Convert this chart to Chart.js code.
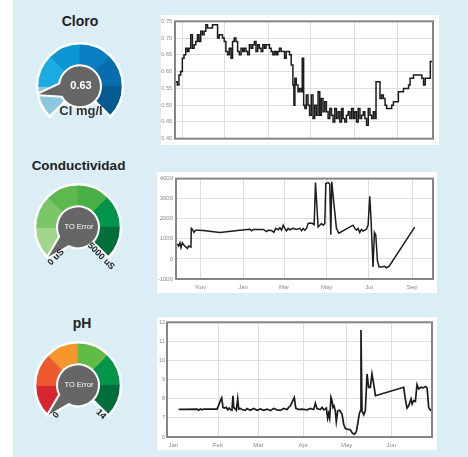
<!DOCTYPE html>
<html>
<head>
<meta charset="utf-8">
<script src="https://cdn.jsdelivr.net/npm/chart.js@4.4.1/dist/chart.umd.min.js"></script>
<style>
  html, body { margin: 0; padding: 0; }
  body {
    width: 468px; height: 457px; position: relative; overflow: hidden;
    background: #dbeef6;
    font-family: "Liberation Sans", Arial, sans-serif;
  }
  .strip { position: absolute; left: 0; top: 0; width: 13px; height: 457px; background: #fff; }
  .title { position: absolute; width: 140px; text-align: center; font-weight: bold; color: #222; line-height: 1; }
  .panel { position: absolute; background: #fff; }
  canvas { position: absolute; }
</style>
</head>
<body>
<div class="strip"></div>

<div class="title" style="left:10px; top:14px; font-size:14px;">Cloro</div>
<div class="title" style="left:8.5px; top:158.5px; font-size:13.5px;">Conductividad</div>
<div class="title" style="left:12px; top:316px; font-size:14px;">pH</div>

<canvas id="cloroGauge" width="120" height="112" style="left:20px; top:24px;"></canvas>
<canvas id="condGauge" width="120" height="112" style="left:18px; top:165px;"></canvas>
<canvas id="phGauge" width="120" height="112" style="left:18px; top:323px;"></canvas>

<div class="panel" style="left:161px; top:15px; width:278px; height:130px;"></div>
<div class="panel" style="left:157px; top:172px; width:280px; height:121px;"></div>
<div class="panel" style="left:157px; top:317px; width:280px; height:133px;"></div>
<canvas id="cloroChart" width="278" height="130" style="left:161px; top:15px;"></canvas>
<canvas id="condChart" width="280" height="121" style="left:157px; top:172px;"></canvas>
<canvas id="phChart" width="280" height="133" style="left:157px; top:317px;"></canvas>

<script>
// --------------------------------
// Gauge readings
// --------------------------------
const gaugeBands = [1, 1, 1, 1, 1, 1];
const cloroScale = [0, 5];
const cloroReading = 0.63;
const condScale = [0, 5000];
const phScale = [0, 14];

const cloroColors = ['#8cc8dd', '#1aace0', '#0b95d3', '#0a7cc2', '#086dac', '#055a92'];
const condColors = ['#9fd68c', '#7cc66a', '#5cb94d', '#4aae46', '#00954a', '#006e38'];
const phColors = ['#d7262d', '#ee5a30', '#f7952f', '#62bb47', '#00964a', '#006d3b'];

// --------------------------------
// Cloro series (days, mg/l)
// --------------------------------
const cloroDays = [-5.2, -3.6, -2.4, -1.2, 0, 1.2, 2.4, 3.6, 4.7, 5.9, 7.1, 8.3, 9.5, 10.7, 11.8, 13.0, 14.2, 15.4, 16.6, 17.8,
    21.3, 24.9, 26.1, 28.4, 29.6, 30.8, 32.0, 33.2, 34.4, 35.5, 36.7, 37.9, 39.1, 40.3, 41.5, 42.7, 43.8, 45.0, 46.2, 47.4,
    48.6, 49.8, 51.0, 52.1, 53.3, 54.5, 55.7, 56.9, 58.1, 59.2, 61.6, 62.8, 64.0, 65.2, 66.4, 67.5, 68.7, 69.9, 72.3, 73.5,
    75.8, 77.0, 78.2, 78.9, 79.6, 80.6, 81.8, 82.9, 84.1, 84.8, 85.8, 86.7, 87.7, 88.9, 90.0, 91.2, 92.4, 93.6, 94.8, 96.0,
    97.2, 98.3, 99.5, 100.7, 101.9, 103.1, 104.3, 105.5, 106.6, 107.8, 109.0, 110.2, 111.4, 112.6, 113.7, 114.9, 116.1, 117.3, 118.5, 119.7,
    120.9, 122.0, 123.2, 124.4, 125.6, 126.8, 128.0, 129.1, 130.3, 131.5, 132.7, 133.9, 135.1, 136.3, 137.0, 139.8, 141.0, 142.2, 143.4, 144.5,
    148.1, 149.3, 152.8, 156.4, 160.0, 161.1, 163.5, 169.4, 170.6, 171.8, 175.4, 177.3];
const cloroValues = [0.57, 0.56, 0.59, 0.60, 0.64, 0.65, 0.67, 0.66, 0.67, 0.71, 0.67, 0.68, 0.69, 0.71, 0.69, 0.72, 0.71, 0.72, 0.74, 0.73,
    0.74, 0.70, 0.71, 0.70, 0.69, 0.66, 0.65, 0.67, 0.64, 0.69, 0.70, 0.69, 0.66, 0.65, 0.67, 0.66, 0.67, 0.66, 0.65, 0.68,
    0.67, 0.68, 0.69, 0.66, 0.68, 0.67, 0.66, 0.68, 0.67, 0.68, 0.67, 0.66, 0.65, 0.66, 0.65, 0.66, 0.67, 0.66, 0.64, 0.66,
    0.65, 0.62, 0.56, 0.50, 0.58, 0.56, 0.54, 0.55, 0.54, 0.64, 0.50, 0.49, 0.53, 0.50, 0.47, 0.53, 0.46, 0.50, 0.47, 0.54,
    0.47, 0.52, 0.48, 0.51, 0.48, 0.46, 0.49, 0.47, 0.45, 0.49, 0.46, 0.48, 0.45, 0.49, 0.46, 0.45, 0.47, 0.48, 0.46, 0.49,
    0.46, 0.48, 0.45, 0.49, 0.46, 0.47, 0.48, 0.46, 0.44, 0.49, 0.47, 0.46, 0.48, 0.46, 0.57, 0.52, 0.53, 0.52, 0.50, 0.49,
    0.50, 0.51, 0.54, 0.55, 0.56, 0.58, 0.59, 0.58, 0.56, 0.58, 0.63, 0.63];
const cloroMonthDays = [0, 30, 61, 91, 122, 152];
const cloroYTicks = [0.40, 0.45, 0.50, 0.55, 0.60, 0.65, 0.70, 0.75];

// --------------------------------
// Conductividad series (days from Nov 1, uS)
// --------------------------------
const condDays = [-33.5, -31.6, -29.7, -28.2, -26.3, -23.9, -21.1, -19.1, -17.2, -15.3, -13.9, -13.4, -12.0, -9.6, -7.2, -3.3, 3.8, 27.8, 56.5, 70.8,
    73.2, 75.6, 90, 94.7, 97.1, 101.9, 105.3, 108.1, 111.5, 113.9, 116.3, 118.7, 121.1, 123.4, 125.8, 128.2, 133, 137.8, 142.6, 145,
    147.4, 149.8, 152.2, 154.5, 156.9, 160.8, 163.2, 165.1, 166.5, 168.9, 171.3, 173.7, 176.1, 178.5, 179.9, 183.3, 185.6, 187.1, 188.5, 191.4,
    195.2, 198.6, 219.1, 221.5, 223.9, 226.3, 228.7, 231.1, 233.5, 235.9, 238.3, 240.7, 243.1, 245, 247.8, 249.8, 251.7, 254.1, 256.5, 259.8,
    264.6, 267, 270.8, 307.7];
const condValues = [750, 640, 800, 560, 800, 680, 590, 520, 650, 600, 590, 1520, 1480, 1320, 1430, 1430, 1420, 1320, 1430, 1480,
    1400, 1470, 1470, 1360, 1430, 1420, 1320, 1520, 1450, 1550, 1430, 1680, 1520, 1400, 1520, 1450, 1520, 1470, 1520, 1400,
    1520, 1430, 1520, 1760, 1790, 1760, 1710, 3800, 2960, 1600, 1680, 1760, 1680, 1760, 3760, 3800, 3730, 1200, 3840, 2800,
    1520, 1280, 1680, 1520, 1430, 1520, 1320, 1470, 1390, 1430, 1480, 1680, 3120, 1920, -400, 1320, 1200, -90, -400, -400,
    -370, -440, -370, 1580];
const condMonthDays = [0, 61, 120, 181, 242, 304];
const condMonthLabels = ['Nov', 'Jan', 'Mar', 'May', 'Jul', 'Sep'];
const condYTicks = [-1000, 0, 1000, 2000, 3000, 4000];

// --------------------------------
// pH series (days from Jan 1)
// --------------------------------
const phDays = [3.7, 7.2, 16.4, 17.6, 18.7, 19.9, 21.0, 23.3, 30.3, 31.4, 32.6, 33.5, 34.4, 35.3, 36.7, 37.6, 38.6, 39.5, 40.6, 41.3,
    41.8, 43.0, 43.6, 44.6, 45.3, 46.4, 47.6, 49.9, 51.0, 53.3, 55.7, 58.0, 60.3, 62.6, 64.9, 67.2, 69.5, 71.8, 74.1, 76.4,
    78.8, 79.9, 81.1, 82.2, 83.8, 84.8, 86.8, 89.1, 92.6, 94.9, 97.2, 98.4, 99.5, 101.8, 103.0, 104.2, 105.3, 106.0, 106.9, 107.6,
    108.3, 109.2, 109.9, 110.6, 111.3, 112.2, 112.9, 113.9, 115.2, 116.9, 118.0, 119.2, 120.8, 122.6, 123.8, 125.4, 126.8, 127.7, 128.9, 129.6,
    130.0, 130.7, 131.9, 133.0, 134.2, 135.3, 136.5, 137.6, 138.8, 140.0, 159.6, 160.7, 161.9, 163.0, 164.7, 165.4, 166.5, 167.7, 168.8, 170.0,
    171.6, 173.0, 174.6, 175.8, 176.9, 178.1, 179.2];
const phValues = [7.44, 7.44, 7.46, 7.40, 7.46, 7.42, 7.46, 7.46, 7.46, 7.67, 7.90, 8.04, 7.55, 7.51, 7.55, 7.42, 7.51, 7.44, 7.40, 8.16,
    7.55, 7.46, 7.40, 8.00, 7.46, 7.49, 7.44, 7.40, 7.49, 7.40, 7.49, 7.40, 7.47, 7.40, 7.46, 7.38, 7.49, 7.42, 7.39, 7.49,
    7.44, 7.55, 7.63, 7.81, 8.07, 7.51, 7.44, 7.46, 7.42, 7.49, 7.44, 7.76, 7.49, 7.44, 7.55, 7.42, 7.47, 7.51, 6.98, 7.23,
    6.98, 8.07, 7.90, 7.55, 7.63, 7.37, 6.81, 7.37, 7.40, 7.19, 6.67, 6.44, 6.40, 6.38, 6.23, 6.14, 6.28, 6.67, 7.23, 7.37,
    11.6, 7.37, 7.16, 7.37, 9.30, 8.60, 8.60, 9.30, 8.78, 8.16, 8.60, 7.99, 7.51, 7.63, 7.99, 7.72, 7.90, 7.86, 8.74, 8.51,
    8.60, 8.57, 8.64, 8.57, 7.55, 7.40, 7.44];
const phMonthDays = [0, 31, 59, 90, 120, 151];
const phMonthLabels = ['Jan', 'Feb', 'Mar', 'Apr', 'May', 'Jun'];
const phYTicks = [6, 7, 8, 9, 10, 11, 12];

const FONT = '"Liberation Sans", Arial, sans-serif';
Chart.defaults.font.family = FONT;

// --------------------------------
// Gauge decoration: white rim, needle, hub and labels
// --------------------------------
const gaugeDecor = {
    id: 'gaugeDecor',
    afterDatasetsDraw(chart, args, opts) {
        const arcs = chart.getDatasetMeta(0).data;
        const first = arcs[0];
        const last = arcs[arcs.length - 1];
        const cx = first.x, cy = first.y;
        const R = first.outerRadius, r = first.innerRadius;
        const a0 = first.startAngle, a1 = last.endAngle;
        const ctx = chart.ctx;
        ctx.save();

        // white outline round the ring
        ctx.beginPath();
        ctx.arc(cx, cy, R, a0, a1);
        ctx.arc(cx, cy, r, a1, a0, true);
        ctx.closePath();
        ctx.strokeStyle = '#fff';
        ctx.lineWidth = 2.5;
        ctx.stroke();

        // needle + hub as one shape
        let frac = (opts.value - opts.min) / (opts.max - opts.min);
        frac = Math.min(Math.max(frac, 0), 1);
        const ang = a0 + frac * (a1 - a0);
        const hub = 20, half = 0.3;
        const tipR = R - 1;
        ctx.beginPath();
        ctx.moveTo(cx + tipR * Math.cos(ang), cy + tipR * Math.sin(ang));
        ctx.lineTo(cx + hub * Math.cos(ang + half), cy + hub * Math.sin(ang + half));
        ctx.arc(cx, cy, hub, ang + half, ang - half + Math.PI * 2);
        ctx.closePath();
        ctx.lineJoin = 'round';
        ctx.strokeStyle = '#fff';
        ctx.lineWidth = 4;
        ctx.stroke();
        ctx.fillStyle = '#666';
        ctx.fill();

        // centre text
        ctx.fillStyle = '#fff';
        ctx.textAlign = 'center';
        ctx.textBaseline = 'middle';
        ctx.font = opts.centerFont;
        ctx.fillText(opts.center, cx + 1, cy);

        // unit under the gauge
        if (opts.below) {
            ctx.fillStyle = '#333';
            ctx.font = 'bold 13px ' + FONT;
            ctx.fillText(opts.below, cx + 1, cy + 25);
        }

        // rotated range labels at both ends
        if (opts.minLabel) {
            ctx.fillStyle = '#222';
            ctx.font = 'bold 9px ' + FONT;
            ctx.save();
            ctx.translate(cx - 22, cy + 30);
            ctx.rotate(-Math.PI / 4);
            ctx.fillText(opts.minLabel, 0, 0);
            ctx.restore();
            ctx.save();
            ctx.translate(cx + 23, cy + 29);
            ctx.rotate(Math.PI / 4);
            ctx.fillText(opts.maxLabel, 0, 0);
            ctx.restore();
        }
        ctx.restore();
    }
};

function makeGauge(id, colors, decor) {
    return new Chart(document.getElementById(id), {
        type: 'doughnut',
        data: {
            datasets: [{
                data: gaugeBands,
                backgroundColor: colors,
                borderColor: colors,
                borderWidth: 1
            }]
        },
        options: {
            responsive: false,
            animation: false,
            events: [],
            rotation: -135,
            circumference: 270,
            radius: 43,
            cutout: '33%',
            plugins: {
                legend: { display: false },
                tooltip: { enabled: false },
                gaugeDecor: decor
            }
        },
        plugins: [gaugeDecor]
    });
}

makeGauge('cloroGauge', cloroColors, {
    value: cloroReading, min: cloroScale[0], max: cloroScale[1],
    center: cloroReading.toFixed(2), centerFont: 'bold 11px ' + FONT,
    below: 'Cl mg/l'
});
makeGauge('condGauge', condColors, {
    value: condScale[0], min: condScale[0], max: condScale[1],
    center: 'TO Error', centerFont: '7.5px ' + FONT,
    minLabel: '0 uS', maxLabel: '5000 uS'
});
makeGauge('phGauge', phColors, {
    value: phScale[0], min: phScale[0], max: phScale[1],
    center: 'TO Error', centerFont: '7.5px ' + FONT,
    minLabel: '0', maxLabel: '14'
});

// --------------------------------
// Line charts
// --------------------------------
const plotFrame = {
    id: 'plotFrame',
    afterDraw(chart) {
        const { ctx, chartArea: a } = chart;
        ctx.save();
        ctx.strokeStyle = '#858585';
        ctx.lineWidth = 2;
        ctx.strokeRect(a.left, a.top, a.right - a.left, a.bottom - a.top);
        ctx.restore();
    }
};

function makeLine(id, cfg) {
    return new Chart(document.getElementById(id), {
        type: 'line',
        data: {
            datasets: [{
                data: cfg.xs.map((x, i) => ({ x: x, y: cfg.ys[i] })),
                borderColor: '#1c1c1c',
                borderWidth: cfg.lineWidth,
                pointRadius: 0,
                fill: false,
                tension: 0,
                stepped: cfg.stepped || false
            }]
        },
        options: {
            responsive: false,
            animation: false,
            events: [],
            layout: { padding: cfg.padding },
            plugins: { legend: { display: false }, tooltip: { enabled: false } },
            scales: {
                x: {
                    type: 'linear',
                    min: cfg.xRange[0],
                    max: cfg.xRange[1],
                    afterBuildTicks: axis => { axis.ticks = cfg.xTicks.map(v => ({ value: v })); },
                    afterFit: axis => { axis.height = cfg.xHeight; },
                    border: { display: false },
                    grid: {
                        drawTicks: false,
                        color: c => (cfg.hideFirstX && c.index === 0) ? 'rgba(0,0,0,0)' : '#dedede'
                    },
                    ticks: {
                        display: !!cfg.xLabels,
                        autoSkip: false,
                        maxRotation: 0,
                        padding: 5,
                        color: '#8a8a8a',
                        font: { size: 6 },
                        callback: (v, i) => cfg.xLabels ? cfg.xLabels[i] : ''
                    }
                },
                y: {
                    min: cfg.yTicks[0],
                    max: cfg.yTicks[cfg.yTicks.length - 1],
                    afterBuildTicks: axis => { axis.ticks = cfg.yTicks.map(v => ({ value: v })); },
                    afterFit: axis => { axis.width = cfg.yWidth; },
                    border: { display: false },
                    grid: { drawTicks: false, color: '#dedede' },
                    ticks: {
                        padding: cfg.yPad,
                        color: '#8a8a8a',
                        font: { size: cfg.yFont },
                        callback: v => cfg.yFormat(v)
                    }
                }
            }
        },
        plugins: [plotFrame]
    });
}

makeLine('cloroChart', {
    xs: cloroDays, ys: cloroValues, stepped: true, lineWidth: 1.5,
    xRange: [-5.2, 177.3], xTicks: cloroMonthDays, xLabels: null, xHeight: 0,
    yTicks: cloroYTicks, yWidth: 14, yPad: 3, yFont: 5.5, yFormat: v => v.toFixed(2),
    padding: { top: 6, right: 6, bottom: 6, left: 0 }
});

makeLine('condChart', {
    xs: condDays, ys: condValues, lineWidth: 1.5,
    xRange: [-35.4, 334], xTicks: condMonthDays, xLabels: condMonthLabels, xHeight: 14,
    yTicks: condYTicks, yWidth: 19, yPad: 3, yFont: 6, yFormat: v => String(v),
    padding: { top: 3, right: 4, bottom: 0, left: 0 }
});

makeLine('phChart', {
    xs: phDays, ys: phValues, lineWidth: 1.7,
    xRange: [-4.4, 179.2], xTicks: phMonthDays, xLabels: phMonthLabels, xHeight: 13, hideFirstX: true,
    yTicks: phYTicks, yWidth: 10, yPad: 2, yFont: 5.5, yFormat: v => String(v),
    padding: { top: 5, right: 5, bottom: 0, left: 0 }
});
</script>
</body>
</html>
